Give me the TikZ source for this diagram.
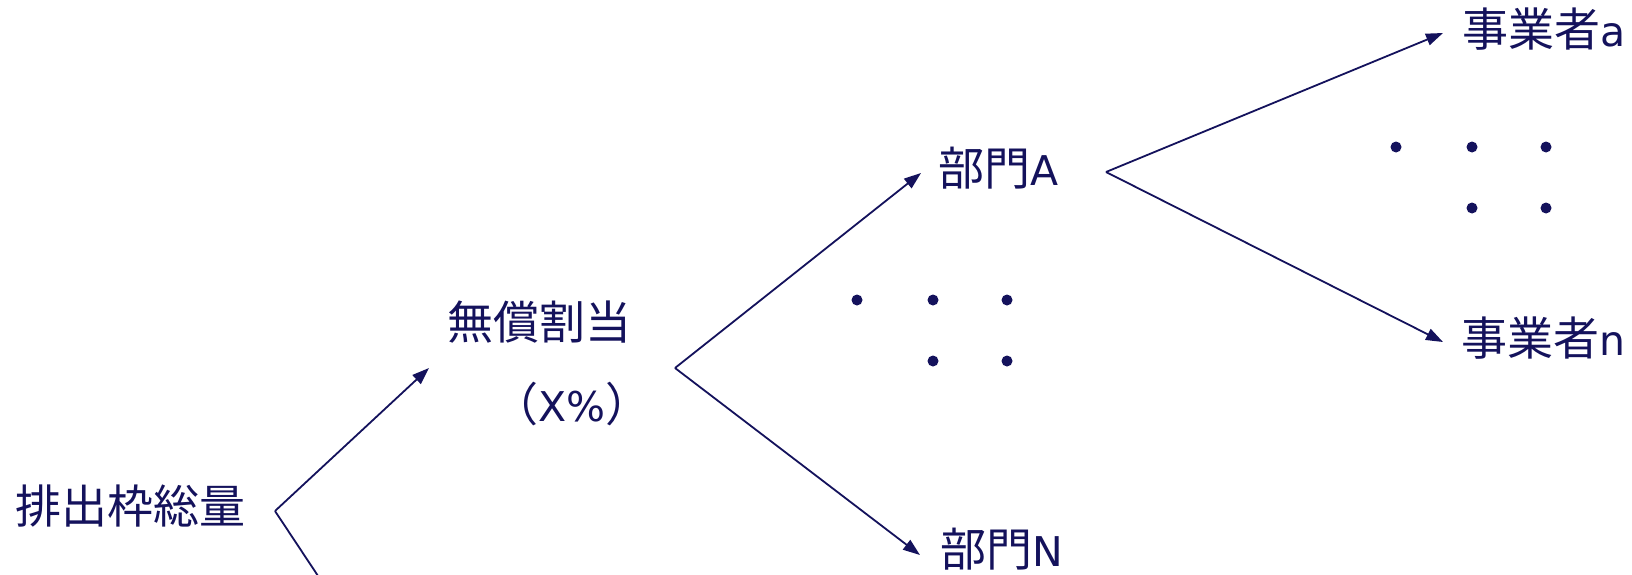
\documentclass[tikz,border=0pt]{standalone}
\usepackage{fontspec}
\newfontfamily\cjk{Noto Sans CJK JP}
\newfontfamily\lat{DejaVu Sans}
\newcommand{\ltx}[1]{{\lat\fontsize{41}{50}\selectfont #1}}
\usetikzlibrary{arrows.meta}
\definecolor{navy}{RGB}{20,18,92}
\tikzset{
  lbl/.style={inner sep=0pt, text=navy, font=\cjk\fontsize{46}{50}\selectfont},
  conn/.style={draw=navy, line width=1.8pt},
  arr/.style={conn, -{Triangle[length=17pt, width=12pt]}},
  dot/.style={fill=navy}
}
\begin{document}
\begin{tikzpicture}[x=1pt, y=-1pt]
\clip (0,0) rectangle (1632,574);
\fill[white] (0,0) rectangle (1632,574);
% text nodes
\node[lbl, anchor=center] (total) at (131,506) {排出枠総量};
\node[lbl, anchor=center] (free) at (539,322) {無償割当};
\node[lbl, anchor=center] (pct) at (572,404) {（\ltx{X\%}）};
\node[lbl, anchor=west] (secA) at (938,168) {部門\ltx{A}};
\node[lbl, anchor=west] (secN) at (940,549) {部門\ltx{N}};
\node[lbl, anchor=west] (opa) at (1462,29) {事業者\ltx{a}};
\node[lbl, anchor=west] (opn) at (1461,338) {事業者\ltx{n}};
% fork points and arrow ends
\coordinate (f1) at (275,511);
\coordinate (f1low) at (330,594);
\coordinate (t1) at (429,368);
\coordinate (f2) at (675,368);
\coordinate (tA) at (921,173);
\coordinate (tN) at (920,555);
\coordinate (f3) at (1106,172);
\coordinate (ta) at (1443,33);
\coordinate (tn) at (1443,342);
% connectors
\draw[arr] (f1) -- (t1);
\draw[conn] (f1) -- (f1low);
\draw[arr] (f2) -- (tA);
\draw[arr] (f2) -- (tN);
\draw[arr] (f3) -- (ta);
\draw[arr] (f3) -- (tn);
% dots
\foreach \p in {(857,300),(933,300),(1007,300),(933,361),(1007,361),
                (1396,147),(1472,147),(1546,147),(1472,208),(1546,208)}
  \fill[dot] \p circle (5.5pt);
\end{tikzpicture}
\end{document}
